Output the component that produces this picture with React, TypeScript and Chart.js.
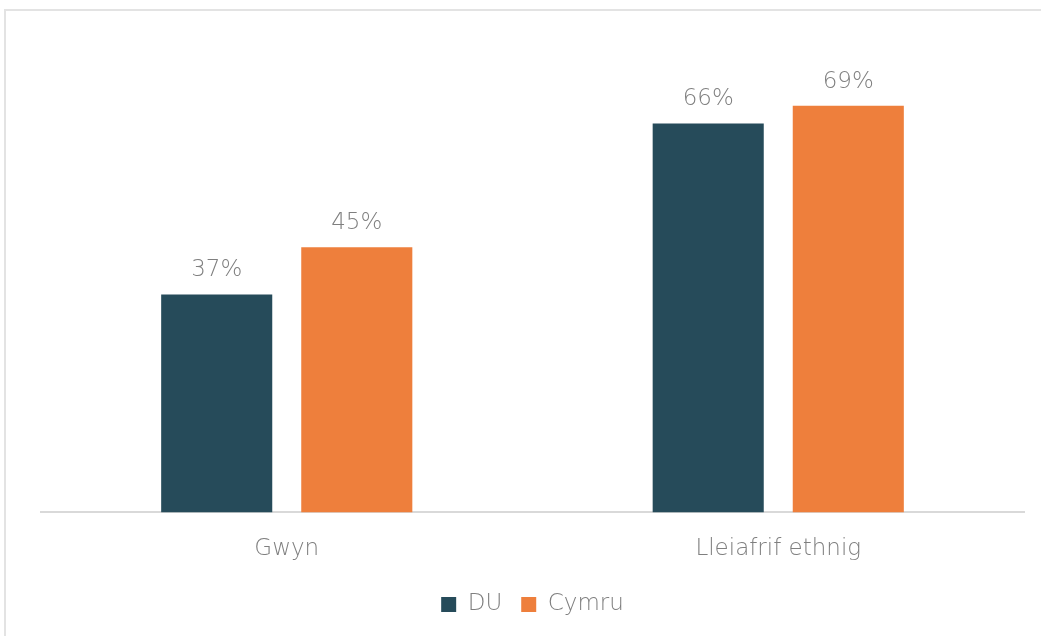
import React, { useEffect, useRef } from "react";
import { Chart, registerables } from "chart.js";

Chart.register(...registerables);

const categories = ["Gwyn", "Lleiafrif ethnig"];
const seriesNames = ["DU", "Cymru"];
const duValues = [37, 66];
const cymruValues = [45, 69];
const colors = ["#264B5A", "#EE7F3C"];

const FONT = "'DejaVu Sans', sans-serif";
const WEIGHT = "200";
const SIZE = 23;

const valueLabels = {
  id: "valueLabels",
  afterDatasetsDraw(chart: any) {
    const ctx = chart.ctx;
    ctx.save();
    ctx.font = `${WEIGHT} ${SIZE}px ${FONT}`;
    ctx.fillStyle = "#7f7f7f";
    ctx.textAlign = "center";
    ctx.textBaseline = "alphabetic";
    chart.data.datasets.forEach((ds: any, i: number) => {
      const meta = chart.getDatasetMeta(i);
      meta.data.forEach((bar: any, j: number) => {
        ctx.fillText(ds.data[j] + "%", bar.x, bar.y - 18);
      });
    });
    ctx.restore();
  },
};

export default function App() {
  const ref = useRef<HTMLCanvasElement>(null);
  useEffect(() => {
    if (!ref.current) return;
    const chart = new Chart(ref.current, {
      type: "bar",
      data: {
        labels: categories,
        datasets: [
          { label: seriesNames[0], data: duValues, backgroundColor: colors[0] },
          { label: seriesNames[1], data: cymruValues, backgroundColor: colors[1] },
        ],
      },
      options: {
        animation: false,
        responsive: false,
        layout: { padding: { left: 41, right: 17, top: 41, bottom: 10 } },
        datasets: { bar: { categoryPercentage: 0.57, barPercentage: 0.793 } },
        scales: {
          x: {
            grid: { display: false, drawTicks: false },
            border: { color: "#d9d9d9", width: 2 },
            ticks: { color: "#7f7f7f", font: { size: SIZE, family: FONT, weight: WEIGHT }, padding: 23 },
            afterFit: (scale: any) => {
              scale.height = scale.height - 12;
            },
          },
          y: { display: false, min: 0, max: 80 },
        },
        plugins: {
          legend: {
            position: "bottom",
            labels: {
              color: "#7f7f7f",
              font: { size: SIZE, family: FONT, weight: WEIGHT },
              boxWidth: 15,
              boxHeight: 15,
              padding: 19,
            },
          },
          tooltip: { enabled: false },
        },
      },
      plugins: [valueLabels],
    });
    return () => chart.destroy();
  }, []);
  return (
    <div style={{ position: "fixed", left: 0, top: 0, width: 1041, height: 636, overflow: "hidden", background: "#fff" }}>
      <div style={{ position: "absolute", left: 4, top: 9, width: 1060, height: 660, border: "2px solid #e3e3e3" }} />
      <canvas ref={ref} width={1041} height={636} style={{ position: "absolute", left: 0, top: 0 }} />
    </div>
  );
}
